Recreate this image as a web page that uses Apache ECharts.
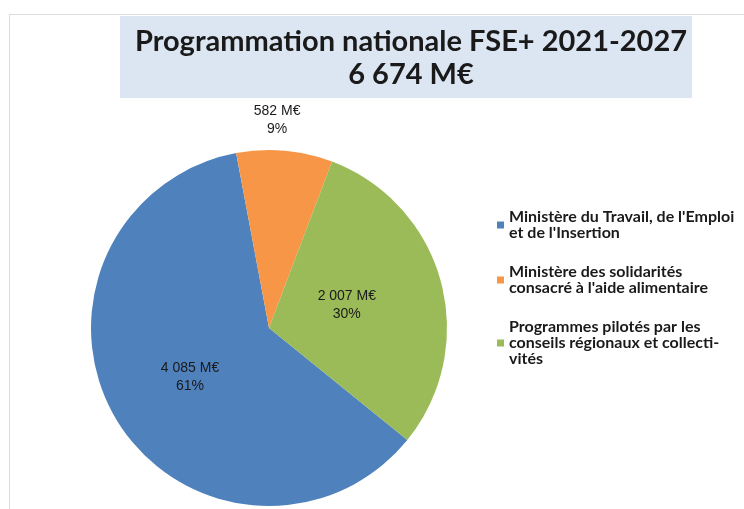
<!DOCTYPE html>
<html>
<head>
<meta charset="utf-8">
<script src="https://cdn.jsdelivr.net/npm/echarts@6/dist/echarts.min.js"></script>
<style>
  html, body { margin: 0; padding: 0; background: #fff; }
  #chart { width: 744px; height: 509px; }
</style>
</head>
<body>
<div id="chart"></div>
<script>
    // données FSE+ 2021-2027 (M€)
    const titleLines = ['Programmation nationale FSE+ 2021-2027', '6 674 M€'];
    const categories = [
        "Ministère du Travail, de l'Emploi\net de l'Insertion",
        "Ministère des solidarités\nconsacré à l'aide alimentaire",
        "Programmes pilotés par les\nconseils régionaux et collecti-\nvités"
    ];
    const amounts = [4085, 582, 2007];
    const colors = ['#4f81bd', '#f79646', '#9bbb59'];

    const total = amounts.reduce(function (a, b) { return a + b; }, 0);
    function fmt(v) {
        return String(v).replace(/\B(?=(\d{3})+(?!\d))/g, ' ');
    }

    var pieData = [];
    categories.forEach(function (name, i) {
        pieData.push({ name: name, value: amounts[i] });
    });

    let chart = echarts.init(document.getElementById('chart'), null, { renderer: 'canvas' });
    let option = {
        backgroundColor: '#fff',
        animation: false,
        color: colors,
        graphic: [
            {
                type: 'rect', z: -10, silent: true,
                shape: { x: 9.5, y: 14.5, width: 800, height: 600 },
                style: { fill: 'none', stroke: '#dcdcdc', lineWidth: 1 }
            },
            {
                type: 'rect', z: -5, silent: true,
                shape: { x: 120, y: 16, width: 572, height: 82 },
                style: { fill: '#dce6f2' }
            }
        ],
        title: {
            text: titleLines.join('\n'),
            left: 406,
            top: 20,
            textAlign: 'center',
            textStyle: {
                fontFamily: 'Lato',
                fontWeight: 'bold',
                fontSize: 29,
                lineHeight: 33,
                color: '#1a1a1a'
            }
        },
        legend: {
            orient: 'vertical',
            left: 492,
            top: 204,
            itemWidth: 7,
            itemHeight: 7,
            itemGap: 23,
            icon: 'rect',
            selectedMode: false,
            textStyle: {
                fontFamily: 'Lato',
                fontWeight: 'bold',
                fontSize: 16,
                lineHeight: 16,
                color: '#1a1a1a'
            },
            data: categories
        },
        series: [
            {
                type: 'pie',
                center: [269, 328],
                radius: [0, 178],
                startAngle: 321,
                clockwise: true,
                avoidLabelOverlap: false,
                itemStyle: { borderWidth: 0 },
                label: {
                    position: 'inside',
                    fontFamily: '"Liberation Sans", Arial',
                    fontSize: 14,
                    lineHeight: 18,
                    color: '#1a1a1a',
                    formatter: function (p) {
                        return fmt(p.value) + ' M€\n' + Math.round(p.value / total * 100) + '%';
                    }
                },
                labelLine: { show: false },
                labelLayout: function (params) {
                    // l'étiquette de la petite part est placée au-dessus du disque
                    if (params.dataIndex === 1) {
                        return { dy: -116 };
                    }
                    if (params.dataIndex === 2) {
                        return { dx: -11, dy: 1 };
                    }
                    return { dy: 2 };
                },
                emphasis: { disabled: true },
                data: pieData
            }
        ]
    };
    chart.setOption(option);
</script>
</body>
</html>
